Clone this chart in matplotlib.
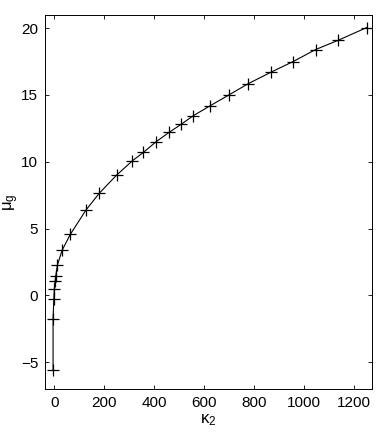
import matplotlib
matplotlib.use("Agg")
import matplotlib.pyplot as plt

plt.rcParams['font.family'] = ['Liberation Sans', 'DejaVu Sans']
plt.rcParams['mathtext.default'] = 'regular'

# valores
kappa2 = [-5, -5, -2, 0, 3, 5.6, 12, 31, 64, 127, 180, 249, 312, 356, 407,
          459, 507, 556, 624, 698, 776, 866, 955, 1045, 1136, 1250]
mu_g = [-5.55, -1.75, -0.27, 0.47, 1.05, 1.42, 2.25, 3.37, 4.57, 6.4, 7.65,
        9.0, 10.07, 10.7, 11.5, 12.2, 12.8, 13.45, 14.2, 15.0, 15.85, 16.7,
        17.5, 18.4, 19.1, 20.05]

fig = plt.figure(figsize=(3.82, 4.36), dpi=100)
ax = fig.add_axes([0.118, 0.108, 0.856, 0.858])

ax.plot(kappa2, mu_g, color='black', linewidth=0.8, marker='+',
        markersize=8, markeredgewidth=0.9)

ax.set_xlim(-37, 1271)
ax.set_ylim(-7, 21)
ax.set_xticks([0, 200, 400, 600, 800, 1000, 1200])
ax.set_yticks([-5, 0, 5, 10, 15, 20])

ax.tick_params(direction='in', top=True, right=True, labelsize=11,
               length=3, width=0.6, pad=5)
for s in ax.spines.values():
    s.set_linewidth(0.7)

ax.set_xlabel(r'$\kappa_2$', fontsize=12, labelpad=2)
ax.set_ylabel(r'$\mu_g$', fontsize=12, labelpad=0)

fig.savefig('out.png', dpi=100)
